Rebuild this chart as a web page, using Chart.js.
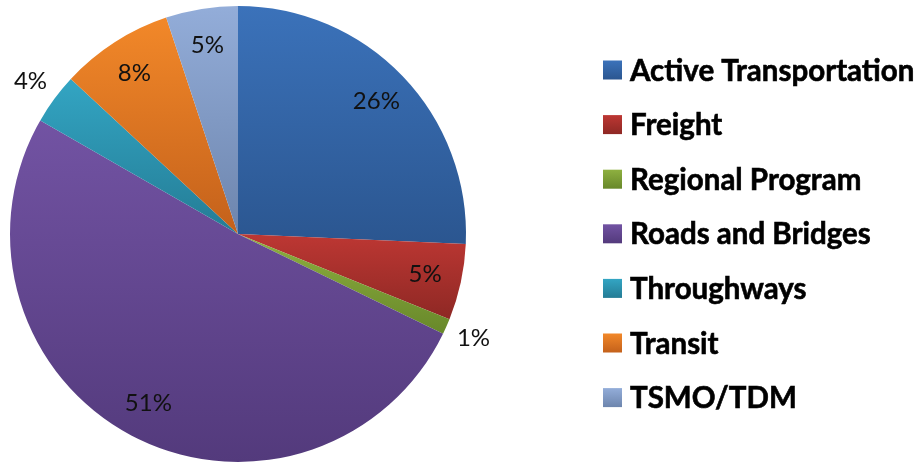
<!DOCTYPE html>
<html>
<head>
<meta charset="utf-8">
<script src="https://cdn.jsdelivr.net/npm/chart.js@4.4.0/dist/chart.umd.min.js"></script>
<style>
    html, body { margin: 0; padding: 0; background: #ffffff; }
    #wrap { position: relative; width: 917px; height: 463px; }
</style>
</head>
<body>
<div id="wrap"><canvas id="pieChart"></canvas></div>
<script>
    // Datos del gráfico
    const categories = ['Active Transportation', 'Freight', 'Regional Program', 'Roads and Bridges', 'Throughways', 'Transit', 'TSMO/TDM'];
    const shares = [25.7, 5.4, 1.1, 51.1, 3.6, 8.0, 5.1];
    const topColors = ['#3b72ba', '#bd3733', '#8eb040', '#7253a3', '#33a5c3', '#f28829', '#93add9'];
    const bottomColors = ['#2b5690', '#8e2824', '#68882a', '#533a7c', '#247c95', '#c4611b', '#6d85ad'];

    const total = shares.reduce(function(a, b) { return a + b; }, 0);

    /**
     * Degradado vertical para cada porción (como en Excel)
     */
    function sliceGradient(context) {
        const chart = context.chart;
        const area = chart.chartArea;
        const i = context.dataIndex;
        if (!area || i === undefined) {
            return topColors[i || 0];
        }
        const cx = (area.left + area.right) / 2;
        const cy = (area.top + area.bottom) / 2;
        const r = Math.min(area.right - area.left, area.bottom - area.top) / 2;
        let start = 0;
        for (let k = 0; k < i; k++) start += shares[k];
        const a0 = start / total * 2 * Math.PI;
        const a1 = (start + shares[i]) / total * 2 * Math.PI;
        const ys = [cy, cy - r * Math.cos(a0), cy - r * Math.cos(a1)];
        if (a0 <= 0.0001) ys.push(cy - r);
        if (a0 < Math.PI && a1 > Math.PI) ys.push(cy + r);
        const yMin = Math.min.apply(null, ys);
        const yMax = Math.max.apply(null, ys);
        const g = chart.ctx.createLinearGradient(0, yMin, 0, Math.max(yMax, yMin + 1));
        g.addColorStop(0, topColors[i]);
        g.addColorStop(1, bottomColors[i]);
        return g;
    }

    // Etiquetas de porcentaje
    const percentLabels = {
        id: 'percentLabels',
        afterDatasetsDraw: function(chart) {
            const ctx = chart.ctx;
            const meta = chart.getDatasetMeta(0);
            ctx.save();
            ctx.font = '24px Lato';
            ctx.fillStyle = '#111111';
            ctx.textAlign = 'center';
            ctx.textBaseline = 'middle';
            meta.data.forEach(function(arc, i) {
                const mid = (arc.startAngle + arc.endAngle) / 2;
                const pct = shares[i] / total * 100;
                const k = pct < 4 ? 1.13 : 0.84;
                const x = arc.x + Math.cos(mid) * arc.outerRadius * k;
                const y = arc.y + Math.sin(mid) * arc.outerRadius * k;
                ctx.fillText(Math.round(pct) + '%', x, y);
            });
            ctx.restore();
        }
    };

    // Leyenda a la derecha
    const sideLegend = {
        id: 'sideLegend',
        afterDraw: function(chart) {
            const ctx = chart.ctx;
            ctx.save();
            ctx.font = 'bold 29.5px Lato';
            ctx.textAlign = 'left';
            ctx.textBaseline = 'middle';
            categories.forEach(function(label, i) {
                const y = 70 + i * 54.6;
                const g = ctx.createLinearGradient(0, y - 9.5, 0, y + 9.5);
                g.addColorStop(0, topColors[i]);
                g.addColorStop(1, bottomColors[i]);
                ctx.fillStyle = g;
                ctx.fillRect(603, y - 9.5, 19, 19);
                ctx.fillStyle = '#000000';
                ctx.strokeStyle = '#000000';
                ctx.lineWidth = 0.6;
                ctx.fillText(label, 630, y + 1);
                ctx.strokeText(label, 630, y + 1);
            });
            ctx.restore();
        }
    };

    new Chart(document.getElementById('pieChart').getContext('2d'), {
        type: 'pie',
        data: {
            labels: categories,
            datasets: [{
                data: shares,
                backgroundColor: sliceGradient,
                borderWidth: 0
            }]
        },
        options: {
            responsive: true,
            maintainAspectRatio: false,
            animation: false,
            layout: {
                padding: { left: 10, top: 6, right: 451, bottom: 1 }
            },
            plugins: {
                legend: { display: false },
                tooltip: { enabled: false }
            }
        },
        plugins: [percentLabels, sideLegend]
    });
</script>
</body>
</html>
